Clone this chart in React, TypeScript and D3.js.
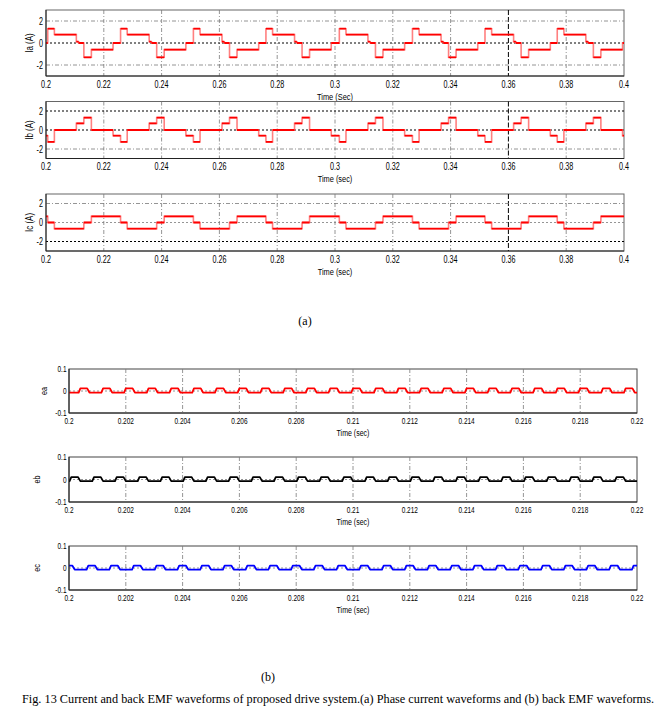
import React from "react";
import * as d3 from "d3";

// ---------------- DATA ----------------
const timeTicksA = [0.2, 0.22, 0.24, 0.26, 0.28, 0.3, 0.32, 0.34, 0.36, 0.38, 0.4];
const timeTicksB = [0.2, 0.202, 0.204, 0.206, 0.208, 0.21, 0.212, 0.214, 0.216, 0.218, 0.22];
const currentTicks = [2, 0, -2];
const emfTicks = [0.1, 0, -0.1];

// switching instants (s)
const switchTimes = [
  0.2006, 0.2029, 0.2105, 0.2113, 0.2131, 0.2157, 0.2232,
  0.2258, 0.2281, 0.2357, 0.2365, 0.2383, 0.2409, 0.2484,
  0.2510, 0.2533, 0.2609, 0.2617, 0.2635, 0.2661, 0.2736,
  0.2761, 0.2784, 0.2860, 0.2868, 0.2886, 0.2912, 0.2987,
  0.3015, 0.3038, 0.3114, 0.3122, 0.3140, 0.3166, 0.3241,
  0.3268, 0.3291, 0.3367, 0.3375, 0.3393, 0.3419, 0.3494,
  0.3519, 0.3542, 0.3618, 0.3626, 0.3644, 0.3670, 0.3745,
  0.3769, 0.3792, 0.3868, 0.3876, 0.3894, 0.3920, 0.3995,
];
// current level (A) after each switching instant, one pattern per cycle
const iaPattern = [1.3, 0.77, 0.12, 0, -1.3, -0.6, 0];
const ibPattern = [-1.25, 0, 0.7, 0.7, 1.3, 0, -0.6];
const icPattern = [0, -0.65, -0.65, -0.65, 0, 0.65, 0.65];
const initialLevels = [0, -0.6, 0.65];

// back-EMF hump centres (s)
const eaHumps = [0.20052, 0.20132, 0.20212, 0.20292, 0.20372, 0.20452, 0.20532, 0.20612, 0.20692, 0.20772, 0.20852, 0.20932, 0.21012, 0.21092, 0.21172, 0.21252, 0.21332, 0.21412, 0.21492, 0.21572, 0.21652, 0.21732, 0.21812, 0.21892, 0.21972];
const ebHumps = [0.2002, 0.2010, 0.2018, 0.2026, 0.2034, 0.2042, 0.2050, 0.2058, 0.2066, 0.2074, 0.2082, 0.2090, 0.2098, 0.2106, 0.2114, 0.2122, 0.2130, 0.2138, 0.2146, 0.2154, 0.2162, 0.2170, 0.2178, 0.2186, 0.2194];
const ecHumps = [0.2000, 0.2008, 0.2016, 0.2024, 0.2032, 0.2040, 0.2048, 0.2056, 0.2064, 0.2072, 0.2080, 0.2088, 0.2096, 0.2104, 0.2112, 0.2120, 0.2128, 0.2136, 0.2144, 0.2152, 0.2160, 0.2168, 0.2176, 0.2184, 0.2192, 0.2200];
// one hump: time offsets from centre and whether the level is high
const humpOffsets = [-0.00018, -0.00012, 0.00012, 0.0002];
const humpIsHigh = [false, true, true, false];
const emfHigh = [0.012, 0.0105, 0.0105];
const emfLow = [-0.007, -0.007, -0.007];

// ---------------- STYLE ----------------
const FONT = "'Liberation Sans', Arial, Helvetica, sans-serif";
const SERIF = "'Liberation Serif', 'Times New Roman', serif";

function CText({ x, y, anchor = "middle", size = 10, sx = 0.72, rot = false, children }: any) {
  return (
    <text
      transform={`translate(${x},${y})${rot ? " rotate(-90)" : ""} scale(${sx},1)`}
      textAnchor={anchor}
      fontSize={size}
      fontFamily={FONT}
      fill="#000"
    >
      {children}
    </text>
  );
}

const GREY_DASH = { stroke: "#7a7a7a", strokeWidth: 0.8, strokeDasharray: "4,2,1,2" };
const GREY_DOT = { stroke: "#7a7a7a", strokeWidth: 0.8, strokeDasharray: "2,2" };
const BLACK_DOT = { stroke: "#000", strokeWidth: 1, strokeDasharray: "2,2" };
const BLACK_DASH = { stroke: "#000", strokeWidth: 1, strokeDasharray: "5,2" };

function fmt(v: number) {
  return String(+v.toFixed(4));
}

function buildSteps(pattern: number[], init: number) {
  const pts: { t: number; v: number }[] = [{ t: 0.2, v: init }];
  switchTimes.forEach((t, i) => pts.push({ t, v: pattern[i % pattern.length] }));
  pts.push({ t: 0.4, v: pts[pts.length - 1].v });
  return pts;
}

function buildEmf(centres: number[], hi: number, lo: number) {
  const pts: { t: number; v: number }[] = [{ t: 0.199, v: lo }];
  centres.forEach((c) => {
    humpOffsets.forEach((o, j) => pts.push({ t: c + o, v: humpIsHigh[j] ? hi : lo }));
  });
  pts.push({ t: 0.221, v: lo });
  return pts;
}

function PanelA({ id, top, bottom, label, xlabel, hStyles, data }: any) {
  const x0 = 46, x1 = 624;
  const x = d3.scaleLinear().domain([0.2, 0.4]).range([x0, x1]);
  const y = d3.scaleLinear().domain([-3, 3]).range([bottom, top]);
  const stepLine = d3
    .line<{ t: number; v: number }>()
    .x((d) => x(d.t))
    .y((d) => y(d.v))
    .curve(d3.curveStepAfter);
  let hPath = "";
  for (let i = 0; i < data.length - 1; i++) {
    hPath += `M${x(data[i].t)},${y(data[i].v)}H${x(data[i + 1].t)}`;
  }
  return (
    <g>
      <defs>
        <clipPath id={id}>
          <rect x={x0} y={top} width={x1 - x0} height={bottom - top} />
        </clipPath>
      </defs>
      <rect x={x0} y={top} width={x1 - x0} height={bottom - top} fill="#fff" stroke="#666" strokeWidth={1} />
      {timeTicksA.slice(1, -1).map((t) => (
        <line key={t} x1={x(t)} x2={x(t)} y1={top} y2={bottom} {...(t === 0.36 ? BLACK_DASH : GREY_DASH)} />
      ))}
      {currentTicks.map((v, i) => (
        <line key={v} x1={x0} x2={x1} y1={y(v)} y2={y(v)} {...hStyles[i]} />
      ))}
      <g clipPath={`url(#${id})`}>
        <path d={stepLine(data) || ""} fill="none" stroke="#ff8080" strokeWidth={1.6} />
        <path d={hPath} fill="none" stroke="#ff0000" strokeWidth={1.8} />
      </g>
      <line x1={x0} x2={x0} y1={top} y2={bottom} stroke="#222" strokeWidth={1} />
      <line x1={x0} x2={x1} y1={bottom} y2={bottom} stroke="#222" strokeWidth={1} />
      {currentTicks.map((v) => (
        <CText key={v} x={x0 - 3} y={y(v) + 3.5} anchor="end" size={10}>
          {fmt(v)}
        </CText>
      ))}
      {timeTicksA.map((t) => (
        <CText key={t} x={x(t)} y={bottom + 11.5} size={10}>
          {fmt(t)}
        </CText>
      ))}
      <CText x={(x0 + x1) / 2} y={bottom + 23.5} size={9.5} sx={0.78}>
        {xlabel}
      </CText>
      <CText x={33} y={(top + bottom) / 2} rot size={10} sx={0.8}>
        {label}
      </CText>
    </g>
  );
}

function PanelB({ id, top, bottom, label, labelX, data, color }: any) {
  const x0 = 69, x1 = 637;
  const x = d3.scaleLinear().domain([0.2, 0.22]).range([x0, x1]);
  const y = d3.scaleLinear().domain([-0.1, 0.1]).range([bottom, top]);
  const line = d3
    .line<{ t: number; v: number }>()
    .x((d) => x(d.t))
    .y((d) => y(d.v));
  return (
    <g>
      <defs>
        <clipPath id={id}>
          <rect x={x0} y={top} width={x1 - x0} height={bottom - top} />
        </clipPath>
      </defs>
      <rect x={x0} y={top} width={x1 - x0} height={bottom - top} fill="#fff" stroke="#444" strokeWidth={1} />
      {timeTicksB.slice(1, -1).map((t) => (
        <line key={t} x1={x(t)} x2={x(t)} y1={top} y2={bottom} {...GREY_DASH} />
      ))}
      <line x1={x0} x2={x1} y1={y(0)} y2={y(0)} {...GREY_DOT} />
      <g clipPath={`url(#${id})`}>
        <path d={line(data) || ""} fill="none" stroke={color} strokeWidth={1.8} strokeLinejoin="round" />
      </g>
      <line x1={x0} x2={x0} y1={top} y2={bottom} stroke="#222" strokeWidth={1} />
      <line x1={x0} x2={x1} y1={bottom} y2={bottom} stroke="#222" strokeWidth={1} />
      {emfTicks.map((v) => (
        <CText key={v} x={x0 - 2.5} y={y(v) + 3.2} anchor="end" size={9}>
          {fmt(v)}
        </CText>
      ))}
      {timeTicksB.map((t) => (
        <CText key={t} x={x(t)} y={bottom + 10.5} size={9}>
          {fmt(t)}
        </CText>
      ))}
      <CText x={(x0 + x1) / 2} y={bottom + 22.5} size={9} sx={0.78}>
        Time (sec)
      </CText>
      <CText x={labelX} y={(top + bottom) / 2} rot size={9} sx={0.8}>
        {label}
      </CText>
    </g>
  );
}

export default function App() {
  const ia = buildSteps(iaPattern, initialLevels[0]);
  const ib = buildSteps(ibPattern, initialLevels[1]);
  const ic = buildSteps(icPattern, initialLevels[2]);
  const ea = buildEmf(eaHumps, emfHigh[0], emfLow[0]);
  const eb = buildEmf(ebHumps, emfHigh[1], emfLow[1]);
  const ec = buildEmf(ecHumps, emfHigh[2], emfLow[2]);
  return (
    <svg
      width={671}
      height={718}
      viewBox="0 0 671 718"
      style={{ position: "absolute", left: 0, top: 0, background: "#fff" }}
    >
      <rect x={0} y={0} width={671} height={718} fill="#fff" />
      <PanelA id="ca" top={10} bottom={76} label="Ia (A)" xlabel="Time (Sec)" hStyles={[GREY_DASH, BLACK_DOT, GREY_DASH]} data={ia} />
      <PanelA id="cb" top={101.5} bottom={158.5} label="Ib (A)" xlabel="Time (sec)" hStyles={[BLACK_DOT, BLACK_DOT, GREY_DASH]} data={ib} />
      <PanelA id="cc" top={194} bottom={251} label="Ic (A)" xlabel="Time (sec)" hStyles={[GREY_DASH, GREY_DOT, BLACK_DOT]} data={ic} />
      <text x={305} y={325} textAnchor="middle" fontSize={12} fontFamily={SERIF}>(a)</text>

      <PanelB id="ea" top={369} bottom={413} label="ea" labelX={47} data={ea} color="#ff0000" />
      <PanelB id="eb" top={457} bottom={502} label="eb" labelX={40} data={eb} color="#000000" />
      <PanelB id="ec" top={546} bottom={590} label="ec" labelX={40} data={ec} color="#0000ff" />
      <text x={268} y={681} textAnchor="middle" fontSize={12} fontFamily={SERIF}>(b)</text>
      <text x={22} y={703} fontSize={11.5} fontFamily={SERIF} textLength={632} lengthAdjust="spacingAndGlyphs">
        Fig. 13 Current and back EMF waveforms of proposed drive system.(a) Phase current  waveforms and (b) back EMF waveforms.
      </text>
    </svg>
  );
}
